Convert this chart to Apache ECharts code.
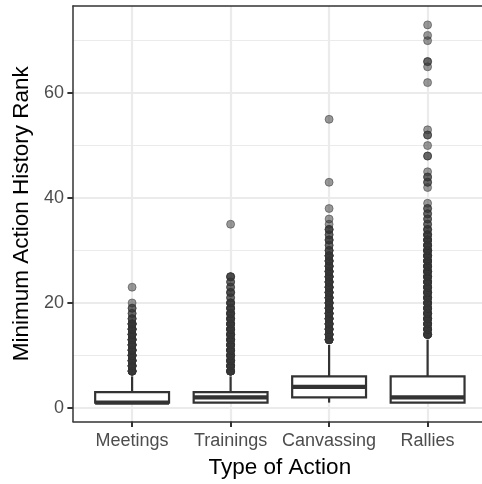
<!DOCTYPE html>
<html>
<head>
<meta charset="utf-8">
<script src="https://cdn.jsdelivr.net/npm/echarts@6/dist/echarts.min.js"></script>
<style>
html,body{margin:0;padding:0;background:#fff;overflow:hidden;}
#chart{width:482px;height:484px;}
</style>
</head>
<body>
<div id="chart"></div>
<script>
// ---- data ----
var categories = ['Meetings', 'Trainings', 'Canvassing', 'Rallies'];
var yTicks = [0, 20, 40, 60];
var yMinorTicks = [10, 30, 50, 70];
var yRange = [-2.6, 76.6];

var whiskerLow  = [1, 1, 1, 1];
var q1          = [1, 1, 2, 1];
var median      = [1, 2, 4, 2];
var q3          = [3, 3, 6, 6];
var whiskerHigh = [6, 6, 12, 13];

// outliers: values and how many points overlap at each value
var meetingsOutliers = [7, 8, 9, 10, 11, 12, 13, 14, 15, 16, 17, 18, 19, 20, 23];
var meetingsCounts   = [6, 6, 6, 6, 6, 6, 6, 6, 6, 6, 3, 2, 2, 1, 1];

var trainingsOutliers = [7, 8, 9, 10, 11, 12, 13, 14, 15, 16, 17, 18, 19, 20, 21, 22, 23, 24, 25, 35];
var trainingsCounts   = [6, 6, 6, 6, 6, 6, 6, 6, 6, 6, 5, 5, 4, 4, 2, 3, 2, 2, 3, 1];

var canvassingOutliers = [13, 14, 15, 16, 17, 18, 19, 20, 21, 22, 23, 24, 25, 26, 27, 28, 29, 30, 31, 32, 33, 34, 35, 36, 38, 43, 55];
var canvassingCounts   = [6, 6, 6, 6, 6, 6, 6, 6, 6, 6, 6, 6, 6, 6, 5, 5, 5, 3, 2, 3, 2, 3, 1, 1, 1, 1, 1];

var ralliesOutliers = [14, 15, 16, 17, 18, 19, 20, 21, 22, 23, 24, 25, 26, 27, 28, 29, 30, 31, 32, 33, 34, 35, 36, 37, 38, 39, 42, 43, 44, 45, 48, 50, 52, 53, 62, 65, 66, 70, 71, 73];
var ralliesCounts   = [6, 6, 6, 6, 6, 6, 6, 6, 6, 6, 6, 6, 6, 6, 6, 6, 6, 5, 5, 4, 3, 2, 2, 2, 2, 1, 1, 2, 2, 1, 2, 1, 2, 1, 1, 1, 2, 1, 1, 1];

// ---- build series data ----
var outlierValues = [meetingsOutliers, trainingsOutliers, canvassingOutliers, ralliesOutliers];
var outlierCounts = [meetingsCounts, trainingsCounts, canvassingCounts, ralliesCounts];

var boxData = categories.map(function (c, i) {
  return [i + 1, whiskerLow[i], q1[i], median[i], q3[i], whiskerHigh[i]];
});
var pointData = [];
outlierValues.forEach(function (vals, i) {
  vals.forEach(function (v, j) {
    for (var k = 0; k < outlierCounts[i][j]; k++) pointData.push([i + 1, v]);
  });
});
var catPositions = categories.map(function (c, i) { return i + 1; });

var INK = '#333333';
var FONT = 'Liberation Sans, Arial, sans-serif';

var chart = echarts.init(document.getElementById('chart'), null, {renderer: 'canvas'});
chart.setOption({
  animation: false,
  backgroundColor: '#ffffff',
  grid: {
    left: 73, top: 6, width: 413.7, height: 415.5,
    outerBoundsMode: 'none', containLabel: false, show: false
  },
  xAxis: [{
    type: 'value', min: 0.4, max: 4.6, position: 'bottom',
    name: 'Type of Action', nameLocation: 'middle', nameGap: 35,
    nameTextStyle: {color: '#000', fontSize: 22.5, fontFamily: FONT},
    axisLine: {show: true, onZero: false, lineStyle: {color: INK, width: 1.5}},
    axisTick: {show: true, length: 5.6, customValues: catPositions, lineStyle: {color: INK, width: 2}},
    axisLabel: {
      customValues: catPositions, margin: 11, color: '#4D4D4D', fontSize: 18, fontFamily: FONT,
      formatter: function (v) { return categories[Math.round(v) - 1] || ''; }
    },
    splitLine: {show: true, lineStyle: {color: '#EBEBEB', width: 2.2}}
  }, {
    type: 'value', min: 0.4, max: 4.6, position: 'top',
    axisLine: {show: true, onZero: false, lineStyle: {color: INK, width: 1.5}},
    axisTick: {show: false}, axisLabel: {show: false}, splitLine: {show: false}
  }],
  yAxis: [{
    type: 'value', min: yRange[0], max: yRange[1], position: 'left',
    name: 'Minimum Action History Rank', nameLocation: 'middle', nameGap: 28, nameRotate: 90,
    nameTextStyle: {color: '#000', fontSize: 22.5, fontFamily: FONT},
    axisLine: {show: true, onZero: false, lineStyle: {color: INK, width: 1.5}},
    axisTick: {show: true, length: 5.6, customValues: yTicks, lineStyle: {color: INK, width: 2}},
    axisLabel: {customValues: yTicks, margin: 9, color: '#4D4D4D', fontSize: 18, fontFamily: FONT},
    splitLine: {show: true, lineStyle: {color: '#EBEBEB', width: 2.2}}
  }, {
    type: 'value', min: yRange[0], max: yRange[1], position: 'left',
    axisLine: {show: false}, axisLabel: {show: false},
    axisTick: {show: false, customValues: yMinorTicks},
    splitLine: {show: true, lineStyle: {color: '#EBEBEB', width: 1.1}}
  }],
  series: [{
    type: 'custom',
    data: boxData,
    encode: {x: 0, y: [1, 2, 3, 4, 5]},
    z: 3,
    renderItem: function (params, api) {
      var x = api.value(0);
      var lo = api.coord([x, api.value(1)]);
      var b1 = api.coord([x, api.value(2)]);
      var md = api.coord([x, api.value(3)]);
      var b3 = api.coord([x, api.value(4)]);
      var hi = api.coord([x, api.value(5)]);
      var w = api.size([0.75, 0])[0];
      return {
        type: 'group',
        children: [
          {type: 'line', shape: {x1: hi[0], y1: hi[1], x2: b3[0], y2: b3[1]}, style: {stroke: INK, lineWidth: 2.2}},
          {type: 'line', shape: {x1: b1[0], y1: b1[1], x2: lo[0], y2: lo[1]}, style: {stroke: INK, lineWidth: 2.2}},
          {type: 'rect', shape: {x: b3[0] - w / 2, y: b3[1], width: w, height: b1[1] - b3[1]}, style: {fill: '#ffffff', stroke: INK, lineWidth: 2.2}},
          {type: 'line', shape: {x1: md[0] - w / 2, y1: md[1], x2: md[0] + w / 2, y2: md[1]}, style: {stroke: INK, lineWidth: 4.4}}
        ]
      };
    }
  }, {
    type: 'scatter',
    data: pointData,
    symbol: 'circle',
    symbolSize: 8,
    z: 4,
    itemStyle: {color: 'rgba(51,51,51,0.5)', borderColor: 'rgba(51,51,51,0.5)', borderWidth: 1, opacity: 1}
  }]
});
</script>
</body>
</html>
